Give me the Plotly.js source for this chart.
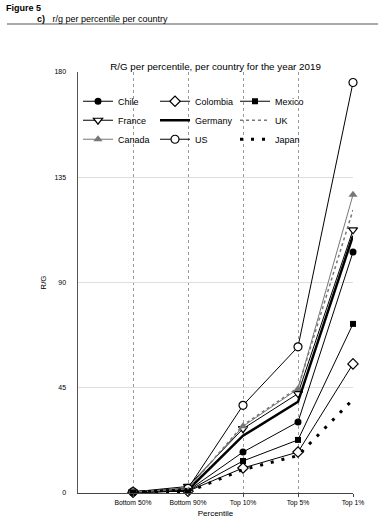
<!DOCTYPE html>
<html>
<head>
<meta charset="utf-8">
<script src="https://cdn.plot.ly/plotly-3.0.1.min.js"></script>
<style>html,body{margin:0;padding:0;background:#fff;}#chart{width:378px;height:528px;}</style>
</head>
<body>
<div id="chart"></div>
<script>
const categories = ['Bottom 50%', 'Bottom 90%', 'Top 10%', 'Top 5%', 'Top 1%'];
const chile    = [0.4, 1.0, 17.5, 30.4, 103.0];
const colombia = [0.3, 0.8, 10.7, 17.5, 55.2];
const mexico   = [0.3, 0.9, 13.7, 22.7, 72.3];
const france   = [0.5, 2.8, 27.5, 42.5, 112.5];
const germany  = [0.4, 1.3, 24.5, 39.0, 110.0];
const uk       = [0.4, 1.8, 29.0, 45.0, 121.0];
const canada   = [0.4, 2.0, 28.5, 44.5, 127.5];
const us       = [0.5, 2.0, 37.5, 62.5, 175.5];
const japan    = [0.2, 0.5, 10.0, 16.0, 40.0];
const yTicks = [0, 45, 90, 135, 180];

function tr(name, y, lg, line, marker, mode) {
  const t = {type: 'scatter', x: categories, y: y, name: name, legend: lg, mode: mode || 'lines+markers',
          line: line, cliponaxis: false};
  if (marker) t.marker = marker;
  return t;
}
const blk = '#000';
const traces = [
  tr('Chile', chile, 'legend', {color: blk, width: 1}, {symbol: 'circle', size: 7, color: blk}),
  tr('France', france, 'legend', {color: blk, width: 1}, {symbol: 'triangle-down', size: 8, color: '#fff', line: {color: blk, width: 1.2}}),
  tr('Canada', canada, 'legend', {color: '#777', width: 1}, {symbol: 'triangle-up', size: 8, color: '#777'}),
  tr('Colombia', colombia, 'legend2', {color: blk, width: 1}, {symbol: 'diamond', size: 8, color: '#fff', line: {color: blk, width: 1.2}}),
  tr('Germany', germany, 'legend2', {color: blk, width: 2.5}, null, 'lines'),
  tr('US', us, 'legend2', {color: blk, width: 1}, {symbol: 'circle', size: 8, color: '#fff', line: {color: blk, width: 1.2}}),
  tr('Mexico', mexico, 'legend3', {color: blk, width: 1}, {symbol: 'square', size: 6, color: blk}),
  tr('UK', uk, 'legend3', {color: '#777', width: 1.5, dash: '3px,3px'}, null, 'lines'),
  tr('Japan', japan, 'legend3', {color: blk, width: 3, dash: '3px,8px'}, null, 'lines')
];

const F = 'Liberation Sans, Arial, sans-serif';
function lgd(x) {
  return {orientation: 'v', x: x, xanchor: 'left', y: 0.965, yanchor: 'top',
          font: {size: 9, family: F}, bgcolor: 'rgba(0,0,0,0)', itemwidth: 30, traceorder: 'normal'};
}
const layout = {
  width: 378, height: 528,
  margin: {l: 78, r: 25, t: 72, b: 35},
  paper_bgcolor: '#fff', plot_bgcolor: '#fff',
  font: {family: F, color: '#000', size: 9},
  title: {text: 'R/G per percentile, per country for the year 2019', font: {size: 9.8, family: F},
          x: 0.5, xref: 'paper', xanchor: 'center', y: 1 - 67/528, yanchor: 'middle'},
  showlegend: true,
  legend: lgd(0),
  legend2: lgd((155 - 78) / 275),
  legend3: lgd((235 - 78) / 275),
  xaxis: {type: 'category', range: [-1, 4], showgrid: true, gridcolor: '#999', griddash: 'dot', gridwidth: 1,
          showline: true, linecolor: '#444', linewidth: 1, ticks: 'outside', ticklen: 3, tickcolor: '#444',
          tickfont: {size: 6.8, family: F}, zeroline: false, fixedrange: true,
          title: {text: 'Percentile', font: {size: 8, family: F}, standoff: 4}},
  yaxis: {range: [0, 180], tickvals: yTicks, ticktext: yTicks.map(String), showgrid: true, gridcolor: '#ddd', gridwidth: 1,
          showline: true, linecolor: '#555', linewidth: 1.5, ticks: '', ticklabelstandoff: 9,
          tickfont: {size: 7, family: F}, zeroline: false, fixedrange: true, automargin: true,
          title: {text: 'R/G', font: {size: 8, family: F}, standoff: 6}},
  shapes: [
    {type: 'line', xref: 'paper', yref: 'paper', x0: (7-78)/275, x1: (378-78)/275, y0: (493-24)/421, y1: (493-24)/421,
     line: {color: '#555', width: 1.2}}
  ],
  annotations: [
    {text: '<b>Figure 5</b>', xref: 'paper', yref: 'paper', x: (5-78)/275, y: (493-8)/421, xanchor: 'left', yanchor: 'middle',
     showarrow: false, borderpad: 0, font: {size: 9, family: F}},
    {text: '<b>c)</b>   r/g per percentile per country', xref: 'paper', yref: 'paper', x: (36-78)/275, y: (493-19.5)/421,
     xanchor: 'left', yanchor: 'middle', showarrow: false, borderpad: 0, font: {size: 9, family: F}}
  ]
};
Plotly.newPlot('chart', traces, layout, {displayModeBar: false, staticPlot: true});
</script>
</body>
</html>
